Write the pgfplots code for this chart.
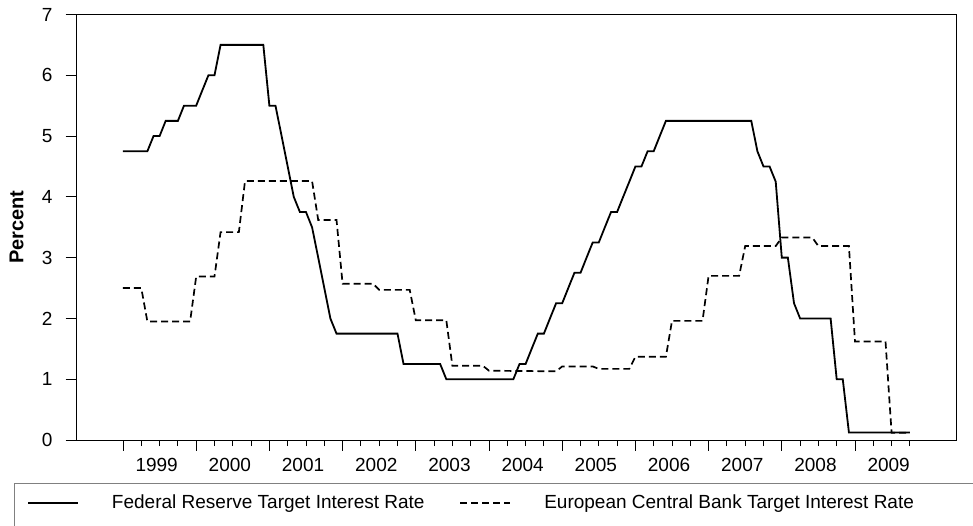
\documentclass[border=0pt]{standalone}
\usepackage{fontspec}
\setmainfont{Liberation Sans}
\usepackage{pgfplots}
\pgfplotsset{compat=1.18}
\begin{document}
\begin{tikzpicture}
\fontsize{19}{22}\selectfont
\useasboundingbox (-76pt,-85pt) rectangle (897pt,440pt);
\begin{axis}[
    width=880pt, height=425.5pt, scale only axis,
    xmin=1998.358, xmax=2010.38, ymin=0, ymax=7,
    axis line style={line width=0.9pt},
    tick style={black, line width=0.9pt},
    tick align=outside,
    xtick pos=bottom, ytick pos=left,
    major tick length=10.5pt, minor tick length=6pt,
    ytick={0,1,2,3,4,5,6,7},
    xtick={1999,2000,2001,2002,2003,2004,2005,2006,2007,2008,2009},
    xticklabels={,,,,,,,,,,},
    minor xtick={1999.25,1999.5,1999.75,2000.25,2000.5,2000.75,2001.25,2001.5,2001.75,
        2002.25,2002.5,2002.75,2003.25,2003.5,2003.75,2004.25,2004.5,2004.75,
        2005.25,2005.5,2005.75,2006.25,2006.5,2006.75,2007.25,2007.5,2007.75,
        2008.25,2008.5,2008.75,2009.25,2009.5,2009.75},
    extra x ticks={1999.46,2000.46,2001.46,2002.46,2003.46,2004.46,2005.46,2006.46,2007.46,2008.46,2009.46},
    extra x tick labels={1999,2000,2001,2002,2003,2004,2005,2006,2007,2008,2009},
    extra x tick style={major tick length=0pt},
    xticklabel style={inner sep=0pt, anchor=north, yshift=-18pt},
    yticklabel style={inner sep=0pt, anchor=east, xshift=-13pt},
    /pgf/number format/assume math mode=true,
    ticklabel style={font=\fontsize{19}{22}\selectfont},
    ylabel={\bfseries Percent},
    ylabel style={at={(axis description cs:0,0.5)}, anchor=center, yshift=59.5pt, font=\fontsize{20}{23}\selectfont},
    legend columns=2,
    legend image code/.code={\draw[#1] (0pt,0pt) -- (50pt,0pt);},
    legend style={at={(0,0)}, anchor=west, xshift=-49pt, yshift=-63pt,
        draw=none, fill=none, inner sep=0pt,
        font=\fontsize{19}{22}\selectfont,
        nodes={inner sep=0pt},
        /tikz/every odd column/.style={column sep=33pt},
        /tikz/every even column/.style={column sep=35pt}},
]
% Federal Reserve target rate (monthly, corners only)
\addplot[black, line width=1.8pt] coordinates {
    (1999.000,4.75) (1999.333,4.75) (1999.417,5.00) (1999.500,5.00) (1999.583,5.25)
    (1999.750,5.25) (1999.833,5.50) (2000.000,5.50) (2000.083,5.75) (2000.167,6.00)
    (2000.250,6.00) (2000.333,6.50) (2000.917,6.50) (2001.000,5.50) (2001.083,5.50)
    (2001.167,5.00) (2001.250,4.50) (2001.333,4.00) (2001.417,3.75) (2001.500,3.75)
    (2001.583,3.50) (2001.667,3.00) (2001.750,2.50) (2001.833,2.00) (2001.917,1.75)
    (2002.750,1.75) (2002.833,1.25) (2003.333,1.25) (2003.417,1.00) (2004.333,1.00)
    (2004.417,1.25) (2004.500,1.25) (2004.583,1.50) (2004.667,1.75) (2004.750,1.75)
    (2004.833,2.00) (2004.917,2.25) (2005.000,2.25) (2005.083,2.50) (2005.167,2.75)
    (2005.250,2.75) (2005.333,3.00) (2005.417,3.25) (2005.500,3.25) (2005.583,3.50)
    (2005.667,3.75) (2005.750,3.75) (2005.833,4.00) (2005.917,4.25) (2006.000,4.50)
    (2006.083,4.50) (2006.167,4.75) (2006.250,4.75) (2006.333,5.00) (2006.417,5.25)
    (2007.583,5.25) (2007.667,4.75) (2007.750,4.50) (2007.833,4.50) (2007.917,4.25)
    (2008.000,3.00) (2008.083,3.00) (2008.167,2.25) (2008.250,2.00) (2008.667,2.00)
    (2008.750,1.00) (2008.833,1.00) (2008.917,0.125) (2009.750,0.125)
};
\addlegendentry{Federal Reserve Target Interest Rate}
% European Central Bank target rate
\addplot[black, line width=1.7pt, dash pattern=on 7pt off 4pt] coordinates {
    (1999.000,2.50) (1999.250,2.50) (1999.333,1.95) (1999.917,1.95) (2000.000,2.69)
    (2000.250,2.69) (2000.333,3.42) (2000.583,3.42) (2000.667,4.26) (2001.583,4.26)
    (2001.667,3.62) (2001.917,3.62) (2002.000,2.57) (2002.417,2.57) (2002.500,2.47)
    (2002.917,2.47) (2003.000,1.97) (2003.417,1.97) (2003.500,1.22) (2003.917,1.22)
    (2004.000,1.14) (2004.917,1.13) (2005.000,1.21) (2005.417,1.21) (2005.500,1.17)
    (2005.917,1.17) (2006.000,1.37) (2006.417,1.37) (2006.500,1.96) (2006.917,1.96)
    (2007.000,2.70) (2007.417,2.70) (2007.500,3.19) (2007.917,3.19) (2008.000,3.33)
    (2008.417,3.33) (2008.500,3.19) (2008.917,3.19) (2009.000,1.62) (2009.417,1.62)
    (2009.500,0.12) (2009.750,0.12)
};
\addlegendentry{European Central Bank Target Interest Rate}
\end{axis}
\draw[gray, line width=1pt] (-61pt,-90pt) -- (-61pt,-43pt) -- (900pt,-43pt);
\end{tikzpicture}
\end{document}
